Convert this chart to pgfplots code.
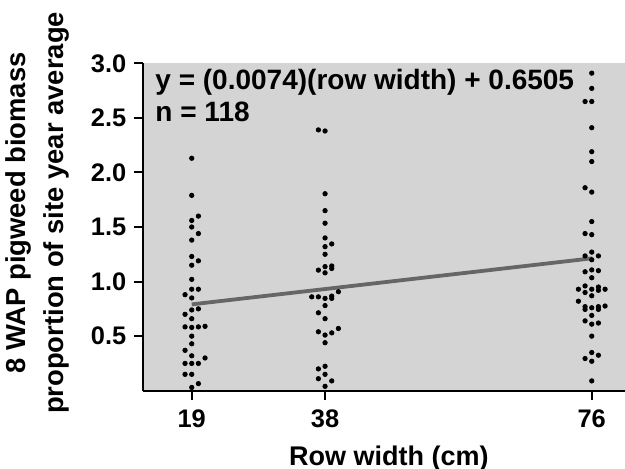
\documentclass[border=0pt]{standalone}
\usepackage{fontspec}
\setmainfont{Liberation Sans}
\usepackage{pgfplots}
\pgfplotsset{compat=1.18}
\definecolor{bggray}{HTML}{D4D4D4}
\definecolor{linegray}{HTML}{666666}
\begin{document}
\begin{tikzpicture}
\useasboundingbox (-71.65pt,-38.65pt) rectangle (240.85pt,195.35pt);
\begin{axis}[
  scale only axis,
  width=240.85pt, height=163.7pt,
  xmin=12.1, xmax=80.74, ymin=0, ymax=3.0,
  axis lines=left,
  axis line style={-, line width=1pt, black},
  axis background/.style={fill=bggray},
  xtick={19,38,76},
  ytick={0.5,1.0,1.5,2.0,2.5,3.0},
  yticklabels={0.5,1.0,1.5,2.0,2.5,3.0},
  tick align=outside,
  major tick length=4.5pt,
  tick style={line width=1pt, black},
  /pgf/number format/assume math mode=true,
  ticklabel style={font=\bfseries\fontsize{12.7}{15}\selectfont},
  xticklabel style={yshift=-1.5pt},
  yticklabel style={xshift=-0.5pt},
  xlabel={Row width (cm)},
  xlabel style={at={(axis description cs:0.51,-0.227)}, anchor=base, font=\bfseries\fontsize{13.5}{16}\selectfont},
  ylabel={8 WAP pigweed biomass\\proportion of site year average},
  every axis y label/.style={at={(axis description cs:-0.138,0.543)}, rotate=90, anchor=south, align=center, font=\bfseries\fontsize{13.7}{19}\selectfont},
  clip=false,
]
\addplot[only marks, mark=*, mark size=1.1pt, black] coordinates {
(19,2.13) (19,1.79) (19.95,1.60) (19,1.56) (19,1.50) (19.95,1.44) (19,1.38) (19,1.23) (19.95,1.19) (19,1.15) (19,1.02) (19,0.93) (19.95,0.93) (18.05,0.88) (19,0.85) (19.95,0.75) (19,0.74) (18.05,0.70) (19,0.66) (18.05,0.585) (19,0.58) (19.95,0.585) (20.9,0.59) (19,0.50) (19,0.43) (18.05,0.37) (19,0.32) (20.9,0.30) (18.05,0.25) (19,0.25) (19.95,0.25) (18.05,0.15) (19,0.15) (19,0.03) (19.95,0.065)
};
\addplot[only marks, mark=*, mark size=1.1pt, black] coordinates {
(37.05,2.39) (38,2.38) (38,1.805) (38,1.65) (38,1.535) (38,1.40) (38,1.32) (38.95,1.345) (38,1.25) (37.05,1.105) (38,1.137) (38.95,1.143) (38.95,1.12) (38,1.08)
(36.1,0.86) (37.05,0.86) (38,0.846) (38.95,0.846) (38.95,0.867) (39.9,0.907) (38,0.78) (37.05,0.714) (38,0.66) (37.05,0.54) (38,0.51) (38.95,0.53) (39.9,0.57) (38,0.44) (37.05,0.20) (38,0.224) (37.05,0.11) (38,0.15) (38.95,0.09) (38,0.04)
};
\addplot[only marks, mark=*, mark size=1.1pt, black] coordinates {
(76,2.91) (76,2.77) (75.05,2.65) (76,2.65) (76,2.41) (76,2.19) (76,2.10) (75.05,1.86) (76,1.82) (76,1.55) (75.05,1.44) (76,1.43) (75.05,1.235) (76,1.27) (76.95,1.235) (76,1.20) (75.05,1.09) (76,1.107) (76.95,1.10) (76,1.035) (74.1,0.93) (75.05,0.96) (75.05,0.90) (76,0.93) (76.95,0.95) (76.95,0.92) (77.9,0.93) (76,0.87) (74.1,0.82) (75.05,0.77) (75.05,0.745) (76,0.76) (76.95,0.77) (76.95,0.745) (77.9,0.776) (76,0.69) (75.05,0.64) (76,0.61) (76.95,0.62) (76,0.50) (75.05,0.295) (76,0.35) (76.95,0.325) (76,0.27) (76,0.09)
};
\addplot[linegray, line width=1.9pt] coordinates {(19,0.7911) (76,1.2129)};
\node[anchor=base west, inner sep=0pt, font=\bfseries\fontsize{14}{16}\selectfont] at (axis description cs:0.0244,0.9185) {y = (0.0074)(row width) + 0.6505};
\node[anchor=base west, inner sep=0pt, font=\bfseries\fontsize{14}{16}\selectfont] at (axis description cs:0.0244,0.8216) {n = 118};
\end{axis}
\end{tikzpicture}
\end{document}
